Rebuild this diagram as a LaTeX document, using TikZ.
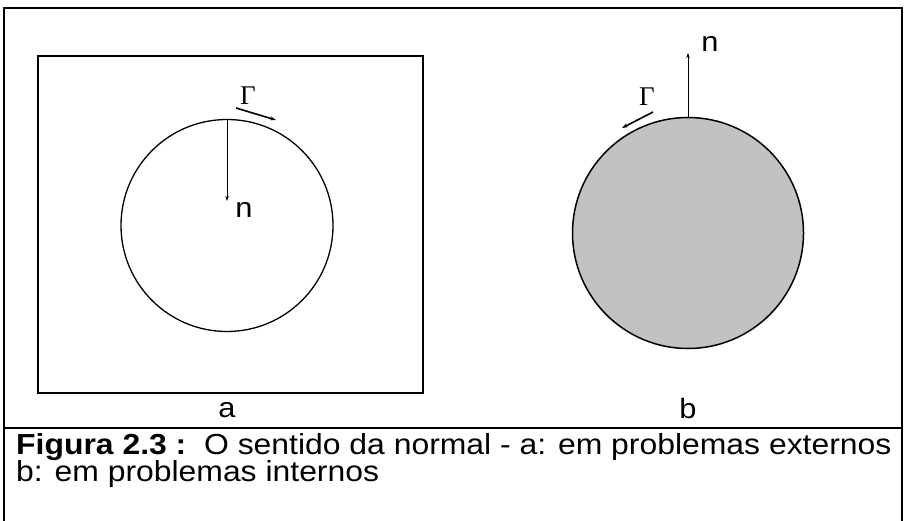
\documentclass[tikz,border=0pt]{standalone}
\usepackage{fontspec}
\setmainfont[FakeStretch=1.1]{Liberation Sans}
\newfontfamily\gammafont{Liberation Serif}
\usetikzlibrary{arrows.meta}
\definecolor{stipple}{gray}{0.76}
\begin{document}
\begin{tikzpicture}[x=1pt,y=-1pt,
  frameline/.style={line width=1.8pt},
  normalarrow/.style={line width=0.8pt,-{Stealth[length=5pt,width=3.5pt]}},
  gammaarrow/.style={line width=1.6pt,-{Stealth[length=6pt,width=4pt]}},
  lbl/.style={inner sep=0,font=\fontsize{28}{30}\selectfont},
  gammalbl/.style={inner sep=0,font=\gammafont\fontsize{27}{29}\selectfont},
  caption/.style={inner sep=0,anchor=base west,font=\fontsize{29}{23}\selectfont}]
\useasboundingbox (0,0) rectangle (904,521);
% outer frame
\draw[frameline] (4,530) -- (4,8) -- (902,8) -- (902,530);
\draw[frameline] (4,428) -- (902,428);
% panel a
\node[draw,line width=1.6pt,minimum width=385pt,minimum height=337pt,inner sep=0] (sq) at (230.5,224.5) {};
\node[circle,draw,line width=1.3pt,minimum size=212pt,inner sep=0] (ca) at (227,225.5) {};
\coordinate (naend) at (227,201);
\draw[normalarrow] (ca.north) -- (naend);
\node[lbl] (nla) at (244,210) {n};
\node[gammalbl] (gla) at (248,96) {Γ};
\coordinate (gas) at (236,108);
\coordinate (gae) at (276,120);
\draw[gammaarrow] (gas) -- (gae);
\node[lbl] (la) at (227,410) {a};
% panel b
\node[circle,draw,fill=stipple,line width=1.5pt,minimum size=231pt,inner sep=0] (cb) at (688,233) {};
\coordinate (nbend) at (688,53);
\draw[normalarrow] (cb.north) -- (nbend);
\node[lbl] (nlb) at (710,44) {n};
\node[gammalbl] (glb) at (647,97) {Γ};
\coordinate (gbs) at (653,112);
\coordinate (gbe) at (622,128);
\draw[gammaarrow] (gbs) -- (gbe);
\node[lbl] (lb) at (688,408) {b};
% caption
\node[caption] (cap1) at (16,454) {\textbf{Figura 2.3 :}\ \ O sentido da normal - a: em problemas externos};
\node[caption] (cap2) at (16,481) {b: em problemas internos};
\end{tikzpicture}
\end{document}
